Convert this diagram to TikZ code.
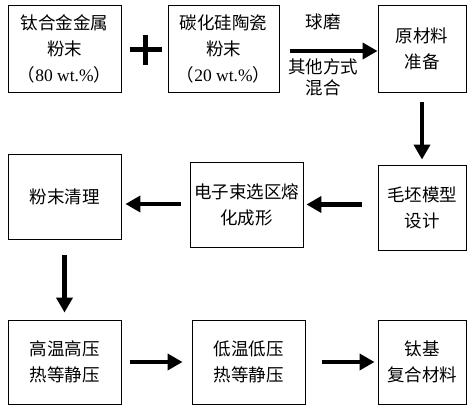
\documentclass[tikz,border=0pt]{standalone}
\usepackage{fontspec}
\setmainfont{Liberation Serif}
\newfontfamily\cjk{Noto Sans CJK SC}
\usetikzlibrary{arrows.meta}

\begin{document}
\begin{tikzpicture}[x=1pt,y=-1pt,line width=0.9pt,
  box/.style={draw,rectangle,align=center,inner sep=0pt,font=\cjk\fontsize{17.5}{26}\selectfont},
  note/.style={inner sep=0pt,align=center,font=\cjk\fontsize{17.5}{21.5}\selectfont},
  flow/.style={line width=4.5pt,-{Triangle[length=15pt,width=16pt]}}]
\useasboundingbox (0,0) rectangle (474,412);

% first row
\node[box,minimum width=113pt,minimum height=87pt] (alloy) at (64.5,48.5) {钛合金金属\\粉末\\（{\rmfamily 80 wt.\%}）};
\node[box,minimum width=111pt,minimum height=87pt] (sic) at (223.5,48.5) {碳化硅陶瓷\\粉末\\（{\rmfamily 20 wt.\%}）};
\node[box,minimum width=88pt,minimum height=87pt] (raw) at (422,48.5) {原材料\\准备};

\coordinate (plus) at (145.5,50);
\draw[line width=5pt] ([xshift=-16pt]plus) -- ([xshift=16pt]plus);
\draw[line width=5pt] ([yshift=15pt]plus) -- ([yshift=-15pt]plus);

\draw[flow] (sic.east |- 0,51) ++(11,0) coordinate (mix) -- (raw.west |- mix);
\node[note] (mill) at (323,22) {球磨};
\node[note] (other) at (323,77.5) {其他方式\\混合};

% second row
\node[box,minimum width=88pt,minimum height=85pt] (blank) at (422,207.5) {毛坯模型\\设计};
\node[box,minimum width=113pt,minimum height=85pt] (ebm) at (246.5,204.5) {电子束选区熔\\化成形};
\node[box,minimum width=113pt,minimum height=85pt] (clean) at (64.5,196.5) {粉末清理};

\draw[flow,shorten <=10pt,shorten >=5pt] (raw.south) -- (blank.north);
\draw[flow,shorten <=16pt,shorten >=3pt] (blank.west |- ebm.east) -- (ebm.east);
\draw[flow,shorten <=9pt,shorten >=4pt] (ebm.west |- 0,204) -- (clean.east |- 0,204);

% third row
\node[box,minimum width=113pt,minimum height=84pt] (hip) at (64.5,362) {高温高压\\热等静压};
\node[box,minimum width=113pt,minimum height=84pt] (lip) at (248.5,362) {低温低压\\热等静压};
\node[box,minimum width=88pt,minimum height=84pt] (ti) at (422,362) {钛基\\复合材料};

\draw[flow,shorten <=16pt,shorten >=7pt] (clean.south) -- (hip.north);
\draw[flow,shorten <=9pt,shorten >=9pt] (hip.east) -- (lip.west);
\draw[flow,shorten <=17pt,shorten >=3pt] (lip.east) -- (ti.west);

\end{tikzpicture}
\end{document}
